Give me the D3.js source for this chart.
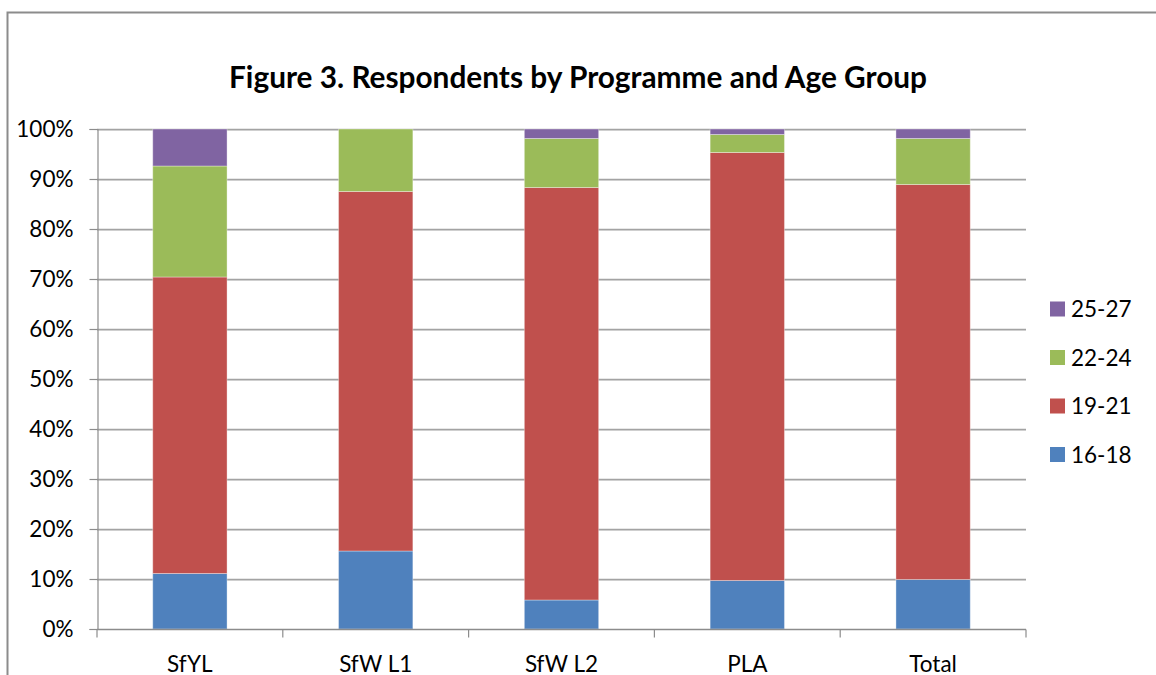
<!DOCTYPE html>
<html>
<head>
<meta charset="utf-8">
<script src="https://cdn.jsdelivr.net/npm/d3@7"></script>
<style>
  body { margin: 0; background: #fff; }
  svg { display: block; font-family: Lato, "Open Sans", sans-serif; }
</style>
</head>
<body>
<svg id="chart" width="1156" height="675"></svg>
<script>
const programmes = ['SfYL', 'SfW L1', 'SfW L2', 'PLA', 'Total'];
const ageGroups = ['16-18', '19-21', '22-24', '25-27'];
// percentage of respondents per programme, one array per age group
const age16to18 = [11.1, 15.6, 5.8, 9.7, 9.9];
const age19to21 = [59.3, 71.9, 82.5, 85.6, 79.0];
const age22to24 = [22.2, 12.5, 9.8, 3.6, 9.2];
const age25to27 = [7.4, 0.0, 1.9, 1.1, 1.9];
const yTicks = [0, 10, 20, 30, 40, 50, 60, 70, 80, 90, 100];

const colors = {
    '16-18': '#4f81bd',
    '19-21': '#c0504d',
    '22-24': '#9bbb59',
    '25-27': '#8064a2',
};

const series = [age16to18, age19to21, age22to24, age25to27];
const table = programmes.map((p, i) => {
    const row = { programme: p };
    ageGroups.forEach((g, j) => (row[g] = series[j][i]));
    return row;
});

const svg = d3.select('#chart');
const margin = { top: 129, right: 130, bottom: 46, left: 97 };
const h = 675;
const labelSize = 22.5;

// outer chart frame (runs off the right/bottom edge like the source)
svg.append('rect')
    .attr('x', 7.5)
    .attr('y', 12.5)
    .attr('width', 1200)
    .attr('height', 800)
    .attr('fill', 'none')
    .attr('stroke', '#8c8c8c')
    .attr('stroke-width', 2);

svg.append('text')
    .attr('x', 578)
    .attr('y', 88)
    .attr('text-anchor', 'middle')
    .attr('font-weight', 'bold')
    .attr('font-size', 29.8)
    .attr('fill', '#000')
    .text('Figure 3. Respondents by Programme and Age Group');

const x = d3.scaleBand()
    .domain(programmes)
    .range([margin.left, 1026])
    .paddingInner(0.6)
    .paddingOuter(0.3);

const y = d3.scaleLinear()
    .domain([0, 100])
    .range([h - margin.bottom, margin.top]);

// gridlines
const grid = svg.append('g');
grid.selectAll('line.shadow')
    .data(yTicks.filter((d) => d > 0))
    .enter()
    .append('line')
    .attr('class', 'shadow')
    .attr('x1', margin.left)
    .attr('x2', 1026)
    .attr('y1', (d) => y(d) + 1.5)
    .attr('y2', (d) => y(d) + 1.5)
    .attr('stroke', '#dedede')
    .attr('stroke-width', 1);
grid.selectAll('line.main')
    .data(yTicks.filter((d) => d > 0))
    .enter()
    .append('line')
    .attr('class', 'main')
    .attr('x1', margin.left)
    .attr('x2', 1026)
    .attr('y1', (d) => y(d) + 0.5)
    .attr('y2', (d) => y(d) + 0.5)
    .attr('stroke', '#a3a3a3')
    .attr('stroke-width', 1.3);

// stacked bars
const stack = d3.stack().keys(ageGroups)(table);
svg.append('g')
    .selectAll('g')
    .data(stack)
    .enter()
    .append('g')
    .attr('fill', (d) => colors[d.key])
    .selectAll('rect')
    .data((d) => d)
    .enter()
    .append('rect')
    .attr('x', (d) => x(d.data.programme))
    .attr('width', x.bandwidth())
    .attr('y', (d) => y(d[1]))
    .attr('height', (d) => y(d[0]) - y(d[1]))
    .attr('stroke', 'rgba(255,255,255,0.35)')
    .attr('stroke-width', 1);

// y axis
const yAxis = svg.append('g')
    .attr('transform', `translate(${margin.left + 0.5},0)`)
    .call(d3.axisLeft(y).tickValues(yTicks).tickFormat((d) => d + '%').tickSize(8).tickPadding(16));
yAxis.selectAll('line, path').attr('stroke', '#8c8c8c').attr('stroke-width', 1.2);
yAxis.selectAll('text')
    .attr('font-size', labelSize)
    .attr('fill', '#000')
    .attr('font-family', 'Lato, sans-serif');

// x axis with ticks at category boundaries
const xAxisG = svg.append('g').attr('transform', `translate(0,${y(0) + 0.5})`);
xAxisG.append('line')
    .attr('x1', margin.left)
    .attr('x2', 1026)
    .attr('stroke', '#8c8c8c')
    .attr('stroke-width', 1.3);
const step = x.step();
const bounds = d3.range(programmes.length + 1).map((i) => margin.left + i * step);
xAxisG.selectAll('line.tick')
    .data(bounds)
    .enter()
    .append('line')
    .attr('class', 'tick')
    .attr('x1', (d) => d)
    .attr('x2', (d) => d)
    .attr('y1', 0)
    .attr('y2', 8)
    .attr('stroke', '#8c8c8c')
    .attr('stroke-width', 1.2);
xAxisG.selectAll('text')
    .data(programmes)
    .enter()
    .append('text')
    .attr('x', (d) => x(d) + x.bandwidth() / 2)
    .attr('y', 42)
    .attr('text-anchor', 'middle')
    .attr('font-size', labelSize)
    .attr('fill', '#000')
    .text((d) => d);

// legend, top entry is the last series
const legend = svg.append('g')
    .selectAll('g')
    .data(ageGroups.slice().reverse())
    .enter()
    .append('g')
    .attr('transform', (d, i) => `translate(1050,${309 + i * 48.5})`);
legend.append('rect')
    .attr('x', 0)
    .attr('y', -7.5)
    .attr('width', 15)
    .attr('height', 15)
    .attr('fill', (d) => colors[d]);
legend.append('text')
    .attr('x', 21)
    .attr('y', 8)
    .attr('font-size', labelSize)
    .attr('fill', '#000')
    .text((d) => d);
</script>
</body>
</html>
